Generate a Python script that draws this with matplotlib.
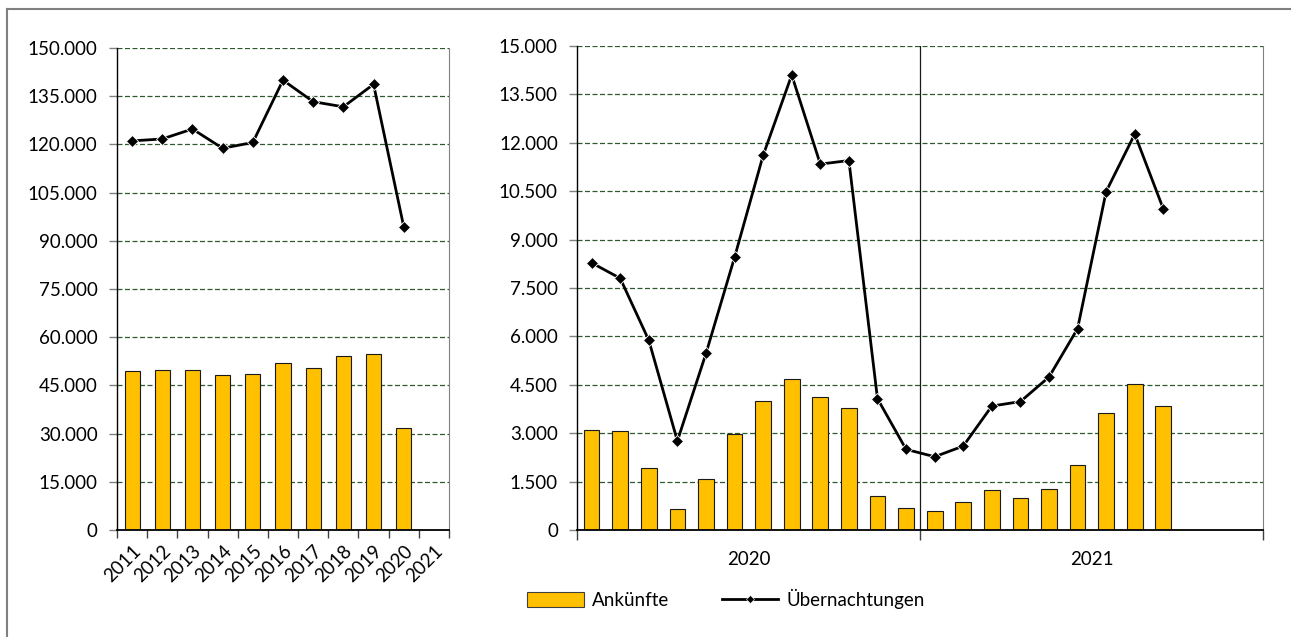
import matplotlib.pyplot as plt
import matplotlib.ticker as mticker
from matplotlib.lines import Line2D
from matplotlib.patches import Patch
import numpy as np

plt.rcParams['font.family'] = ['Lato', 'DejaVu Sans']

# yearly data
years = ['2011', '2012', '2013', '2014', '2015', '2016', '2017', '2018', '2019', '2020', '2021']
arrivals_year = [49400, 49700, 49700, 48100, 48500, 52100, 50500, 54100, 54900, 31600, np.nan]
nights_year = [121100, 121700, 124800, 118800, 120600, 140000, 133300, 131700, 138700, 94400, np.nan]

# monthly data 2020 / 2021
block_labels = ['2020', '2021']
arrivals_month = [3110, 3080, 1910, 650, 1590, 2990, 4010, 4670, 4110, 3770, 1060, 690,
                  600, 860, 1230, 1000, 1270, 2000, 3620, 4530, 3830,
                  np.nan, np.nan, np.nan]
nights_month = [8280, 7800, 5880, 2760, 5470, 8450, 11610, 14100, 11340, 11450, 4070, 2500,
                2270, 2600, 3840, 3980, 4740, 6240, 10490, 12270, 9950,
                np.nan, np.nan, np.nan]

bar_color = '#FFC000'
grid_color = '#2f5a2f'
fs = 13.5


def thousands(v, pos):
    return f'{int(v):,}'.replace(',', '.')


def style_axes(ax, top, step):
    ax.set_ylim(0, top)
    ax.yaxis.set_major_locator(mticker.MultipleLocator(step))
    ax.yaxis.set_major_formatter(mticker.FuncFormatter(thousands))
    ax.grid(axis='y', color=grid_color, linestyle=(0, (4, 2)), linewidth=0.9)
    ax.set_axisbelow(True)
    ax.spines['top'].set_visible(False)
    ax.spines['right'].set_color('#808080')
    ax.spines['right'].set_linewidth(0.8)
    ax.spines['left'].set_linewidth(1.0)
    ax.spines['bottom'].set_linewidth(1.3)
    ax.tick_params(axis='y', length=6, width=1, color='#808080', labelsize=fs, pad=8)


fig = plt.figure(figsize=(12.91, 6.37), dpi=100)

# left: years
ax1 = fig.add_axes([0.0906, 0.168, 0.2572, 0.7566])
x1 = np.arange(len(years))
ax1.bar(x1, arrivals_year, width=0.5, color=bar_color, edgecolor='#1a1a1a', linewidth=0.8, zorder=2)
ax1.plot(x1, nights_year, color='black', linewidth=2, marker='D', markersize=6.5,
         markeredgecolor='white', markeredgewidth=0.6, zorder=3)
ax1.set_xlim(-0.5, len(years) - 0.5)
style_axes(ax1, 150000, 15000)
ax1.set_xticks(x1)
ax1.set_xticklabels(years, rotation=45, ha='right', rotation_mode='anchor', fontsize=fs)
ax1.tick_params(axis='x', which='major', length=0, pad=9)
ax1.set_xticks(np.arange(-0.5, len(years)), minor=True)
ax1.tick_params(axis='x', which='minor', length=6, width=1, color='#404040')

# right: months
ax2 = fig.add_axes([0.4472, 0.168, 0.5314, 0.7598])
x2 = np.arange(len(nights_month))
ax2.bar(x2, arrivals_month, width=0.55, color=bar_color, edgecolor='#1a1a1a', linewidth=0.8, zorder=2)
ax2.plot(x2, nights_month, color='black', linewidth=2, marker='D', markersize=6.5,
         markeredgecolor='white', markeredgewidth=0.6, zorder=3)
ax2.set_xlim(-0.5, len(nights_month) - 0.5)
style_axes(ax2, 15000, 1500)
ax2.axvline(11.5, color='#1a1a1a', linewidth=0.9, zorder=1)
ax2.set_xticks([-0.5, 11.5, 23.5])
ax2.set_xticklabels(['', '', ''])
ax2.tick_params(axis='x', which='major', length=7, width=1, color='#404040')
ax2.set_xticks([5.5, 17.5], minor=True)
ax2.set_xticklabels(block_labels, minor=True, fontsize=fs)
ax2.tick_params(axis='x', which='minor', length=0, pad=15)

# legend
handles = [Patch(facecolor=bar_color, edgecolor='#404040', linewidth=0.8, label='Ankünfte'),
           Line2D([0], [0], color='black', linewidth=2, marker='D', markersize=4,
                  markeredgecolor='white', markeredgewidth=0.4, label='Übernachtungen')]
fig.legend(handles=handles, loc='center', bbox_to_anchor=(0.5625, 0.06), ncol=2,
           frameon=False, fontsize=fs, handlelength=3.0, handleheight=0.85,
           columnspacing=2.8, handletextpad=0.45)

# outer frame (left and top edges visible)
fig.add_artist(Line2D([7 / 1291, 7 / 1291], [0, 1 - 9 / 637], color='#808080', linewidth=1.5))
fig.add_artist(Line2D([7 / 1291, 1], [1 - 9 / 637, 1 - 9 / 637], color='#808080', linewidth=1.5))

fig.savefig('out.png', dpi=100)
